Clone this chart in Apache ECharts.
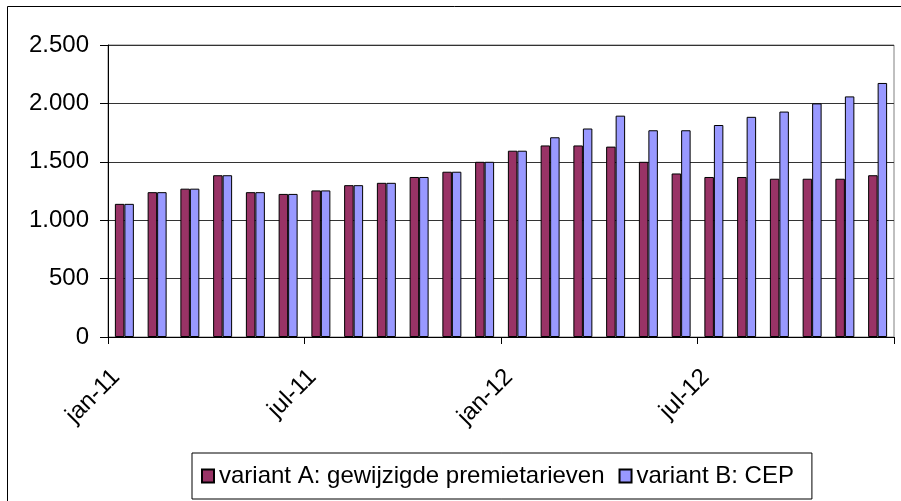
<!DOCTYPE html>
<html>
<head>
<meta charset="utf-8">
<script src="https://cdn.jsdelivr.net/npm/echarts@6/dist/echarts.min.js"></script>
<style>
  html, body { margin: 0; padding: 0; background: #fff; }
  #main { width: 901px; height: 501px; }
</style>
</head>
<body>
<div id="main"></div>
<script>
// maanden jan-11 t/m dec-12
var months = ['jan-11', 'feb-11', 'mrt-11', 'apr-11', 'mei-11', 'jun-11', 'jul-11', 'aug-11', 'sep-11', 'okt-11', 'nov-11', 'dec-11',
  'jan-12', 'feb-12', 'mrt-12', 'apr-12', 'mei-12', 'jun-12', 'jul-12', 'aug-12', 'sep-12', 'okt-12', 'nov-12', 'dec-12']
var variantA = [1140, 1240, 1270, 1385, 1240, 1225, 1255, 1300, 1320, 1370, 1415, 1500,
  1595, 1640, 1640, 1630, 1500, 1400, 1370, 1370, 1355, 1355, 1355, 1385]
var variantB = [1140, 1240, 1270, 1385, 1240, 1225, 1255, 1300, 1320, 1370, 1415, 1500,
  1595, 1710, 1785, 1895, 1770, 1770, 1815, 1885, 1930, 2000, 2060, 2175]
var seriesNames = ['variant A: gewijzigde premietarieven', 'variant B: CEP']

var chart = echarts.init(document.getElementById('main'))
var font = 'Liberation Sans, Arial, sans-serif'

var option = {
  animation: false,
  textStyle: { fontFamily: font },
  graphic: [{
    type: 'rect',
    shape: { x: 7.5, y: 6.5, width: 920, height: 520 },
    style: { fill: 'none', stroke: '#000', lineWidth: 1 },
    silent: true
  }],
  grid: {
    left: 108, right: 7, top: 45, bottom: 164,
    show: true, borderColor: '#808080', borderWidth: 1
  },
  legend: {
    left: 192, top: 453,
    padding: [11, 18, 11, 9],
    itemGap: 14,
    itemWidth: 12, itemHeight: 13,
    icon: 'rect',
    borderColor: '#000', borderWidth: 1,
    textStyle: { fontSize: 24, color: '#000', fontFamily: font },
    data: seriesNames
  },
  xAxis: {
    type: 'category',
    data: months,
    axisLine: { lineStyle: { color: '#000', width: 1 } },
    axisTick: { show: true, length: 7, lineStyle: { color: '#000' } },
    axisLabel: {
      interval: 5, rotate: 45, margin: 28,
      padding: [0, 12, 0, 0],
      fontSize: 24, color: '#000', fontFamily: font
    }
  },
  yAxis: {
    type: 'value',
    min: 0, max: 2500, interval: 500,
    axisLine: { show: true, lineStyle: { color: '#000', width: 1 } },
    axisTick: { show: true, length: 8, lineStyle: { color: '#000' } },
    splitLine: { lineStyle: { color: '#333', width: 1 } },
    axisLabel: {
      margin: 19, fontSize: 24, color: '#000', fontFamily: font,
      formatter: function (v) {
        return String(v).replace(/\B(?=(\d{3})+(?!\d))/g, '.')
      }
    }
  },
  series: [{
    name: seriesNames[0],
    type: 'bar',
    data: variantA,
    barCategoryGap: '42%',
    barGap: '0%',
    itemStyle: { color: '#993366', borderColor: '#000', borderWidth: 1 }
  }, {
    name: seriesNames[1],
    type: 'bar',
    data: variantB,
    barCategoryGap: '42%',
    barGap: '0%',
    itemStyle: { color: '#9999FF', borderColor: '#000', borderWidth: 1 }
  }]
}
chart.setOption(option)
</script>
</body>
</html>
